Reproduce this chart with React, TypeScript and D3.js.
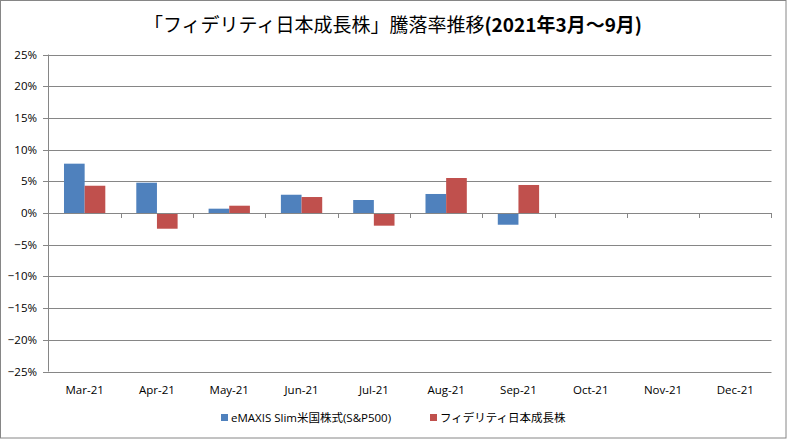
import React from "react";
import * as d3 from "d3";

const months = ["Mar-21", "Apr-21", "May-21", "Jun-21", "Jul-21", "Aug-21", "Sep-21", "Oct-21", "Nov-21", "Dec-21"];
const legendNames = ["eMAXIS Slim米国株式(S&P500)", "フィデリティ日本成長株"];
const emaxis: (number | null)[] = [0.0778, 0.0478, 0.0068, 0.0288, 0.0205, 0.0300, -0.0185, null, null, null];
const fidelity: (number | null)[] = [0.0430, -0.0248, 0.0115, 0.0252, -0.0200, 0.0552, 0.0442, null, null, null];
const yTicks = [0.25, 0.2, 0.15, 0.1, 0.05, 0, -0.05, -0.1, -0.15, -0.2, -0.25];
const colors = ["#4F81BD", "#C0504D"];

const W = 787;
const H = 439;
const FONT = "'Noto Sans CJK JP', 'Noto Sans', sans-serif";
const LABEL_FONT = "'Open Sans', 'Noto Sans CJK JP', sans-serif";

export default function App() {
  const x = d3.scaleBand<string>().domain(months).range([48.5, 771.5]).padding(0);
  const inner = d3.scaleBand<number>().domain([0, 1]).range([0, x.bandwidth()]).paddingInner(0).paddingOuter(0.75);
  const y = d3.scaleLinear().domain([-0.25, 0.25]).range([371.5, 54.5]);
  const fmt = d3.format(".0%");
  const series = [emaxis, fidelity];
  const grid = "#868686";

  return (
    <div style={{ position: "absolute", left: 0, top: 0 }}>
      <svg width={W} height={H} style={{ display: "block", fontFamily: FONT }}>
        <rect x={0.5} y={0.5} width={785.5} height={437.5} fill="#fff" stroke={grid} strokeWidth={1} />
        <text x={393} y={32} textAnchor="middle" fontSize={19} fill="#000">
          「フィデリティ日本成長株」騰落率推移<tspan fontWeight="bold">(2021年3月～9月)</tspan>
        </text>
        {yTicks.map((t) => (
          <g key={t}>
            <line x1={43} x2={771.5} y1={Math.round(y(t)) + 0.5} y2={Math.round(y(t)) + 0.5} stroke={grid} strokeWidth={1} />
            <text x={37} y={y(t) + 4} textAnchor="end" fontSize={11.5} fontFamily={LABEL_FONT} fill="#000">{fmt(t)}</text>
          </g>
        ))}
        <line x1={48.5} x2={48.5} y1={y(0.25)} y2={y(-0.25)} stroke={grid} strokeWidth={1} />
        {series.map((vals, si) =>
          vals.map((v, i) =>
            v === null ? null : (
              <rect
                key={`${si}-${i}`}
                x={(x(months[i]) ?? 0) + (inner(si) ?? 0)}
                y={Math.min(y(v), y(0))}
                width={inner.bandwidth()}
                height={Math.abs(y(v) - y(0))}
                fill={colors[si]}
              />
            )
          )
        )}
        <line x1={48.5} x2={771.5} y1={Math.round(y(0)) + 0.5} y2={Math.round(y(0)) + 0.5} stroke={grid} strokeWidth={1} />
        {months.map((m) => (
          <line key={`tk${m}`} x1={Math.round((x(m) ?? 0) + x.bandwidth()) + 0.5} x2={Math.round((x(m) ?? 0) + x.bandwidth()) + 0.5} y1={y(0)} y2={y(0) + 5} stroke={grid} strokeWidth={1} />
        ))}
        {months.map((m) => (
          <text key={`xl${m}`} x={(x(m) ?? 0) + x.bandwidth() / 2} y={394} textAnchor="middle" fontSize={11.5} fontFamily={LABEL_FONT} fill="#000">{m}</text>
        ))}
        <g fontFamily={LABEL_FONT} fontSize={11.5} fill="#000">
          <rect x={221} y={414} width={7} height={7} fill={colors[0]} />
          <text x={231} y={422}>{legendNames[0]}</text>
          <rect x={430} y={414} width={7} height={7} fill={colors[1]} />
          <text x={440} y={422}>{legendNames[1]}</text>
        </g>
      </svg>
    </div>
  );
}
